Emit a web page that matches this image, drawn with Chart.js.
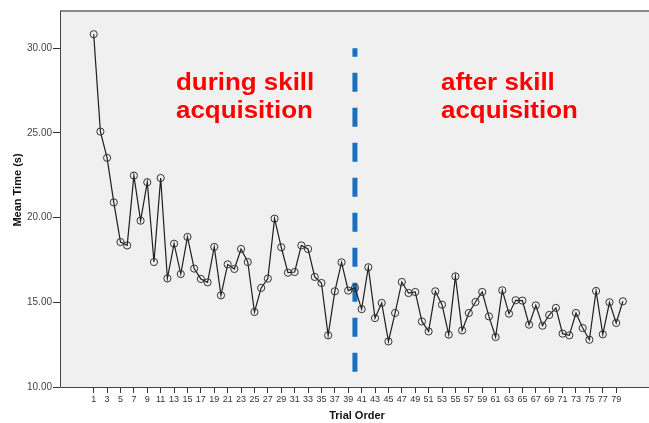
<!DOCTYPE html>
<html>
<head>
<meta charset="utf-8">
<script src="https://cdn.jsdelivr.net/npm/chart.js@4.4.1/dist/chart.umd.min.js"></script>
<style>
  html, body { margin: 0; padding: 0; background: #ffffff; }
  #wrap { width: 649px; height: 423px; position: relative; }
</style>
</head>
<body>
<div id="wrap"><canvas id="chart" width="649" height="423"></canvas></div>
<script>
// Trial numbers 1..80 and the mean completion time (s) for each trial
const trials = [];
for (let i = 1; i <= 80; i++) trials.push(i);

const meanTimes = [
  30.83, 25.08, 23.53, 20.90, 18.56, 18.36, 22.48, 19.82, 22.09, 17.38,
  22.34, 16.41, 18.46, 16.67, 18.86, 16.99, 16.38, 16.18, 18.27, 15.41,
  17.24, 16.97, 18.15, 17.38, 14.43, 15.85, 16.40, 19.94, 18.25, 16.75,
  16.79, 18.36, 18.15, 16.50, 16.14, 13.05, 15.65, 17.36, 15.69, 15.85,
  14.60, 17.07, 14.07, 14.96, 12.69, 14.37, 16.20, 15.55, 15.61, 13.87,
  13.28, 15.65, 14.86, 13.09, 16.53, 13.34, 14.37, 15.02, 15.61, 14.17,
  12.95, 15.71, 14.33, 15.12, 15.10, 13.68, 14.82, 13.62, 14.25, 14.67,
  13.15, 13.05, 14.37, 13.48, 12.79, 15.67, 13.11, 15.00, 13.78, 15.06
];

// Tick labels
const xTickValues = [];
for (let t = 1; t <= 79; t += 2) xTickValues.push(t);
const yTickValues = [10, 15, 20, 25, 30];

// Phase boundary (trial 40) and its vertical extent in seconds
const boundaryTrial = [40, 40];
const boundaryTime = [10.9, 30.0];

const phaseLabels = [
  ["during skill", "acquisition"],
  ["after skill", "acquisition"]
];

const points = trials.map((t, i) => ({ x: t, y: meanTimes[i] }));
const boundary = boundaryTrial.map((t, i) => ({ x: t, y: boundaryTime[i] }));

const frame = {
  id: 'frame',
  beforeDraw(chart) {
    const { ctx, chartArea: a } = chart;
    ctx.save();
    ctx.fillStyle = '#f0f0f0';
    ctx.fillRect(a.left, a.top, a.right - a.left, a.bottom - a.top);
    ctx.restore();
  },
  afterDatasetsDraw(chart) {
    const { ctx, chartArea: a } = chart;
    ctx.save();
    // top edge
    ctx.strokeStyle = '#8c8c8c';
    ctx.lineWidth = 2;
    ctx.beginPath();
    ctx.moveTo(a.left, a.top);
    ctx.lineTo(a.right, a.top);
    ctx.stroke();
    // left and bottom axis lines
    ctx.strokeStyle = '#444444';
    ctx.lineWidth = 1;
    ctx.beginPath();
    ctx.moveTo(a.left + 0.5, a.top);
    ctx.lineTo(a.left + 0.5, a.bottom + 0.5);
    ctx.lineTo(a.right, a.bottom + 0.5);
    ctx.stroke();

    // phase labels
    ctx.fillStyle = '#ff0000';
    ctx.font = 'bold 24px "Liberation Sans", Arial, sans-serif';
    ctx.textBaseline = 'alphabetic';
    ctx.textAlign = 'left';
    const spots = [176, 441];
    phaseLabels.forEach((lines, k) => {
      lines.forEach((s, j) => {
        ctx.save();
        ctx.translate(spots[k], 90 + j * 28);
        ctx.scale(1.08, 1);
        ctx.fillText(s, 0, 0);
        ctx.restore();
      });
    });

    // axis titles
    ctx.fillStyle = '#111111';
    ctx.font = 'bold 11px "Liberation Sans", Arial, sans-serif';
    ctx.textAlign = 'center';
    ctx.textBaseline = 'middle';
    ctx.fillText('Trial Order', 357, 416);
    ctx.save();
    ctx.translate(18, 190);
    ctx.rotate(-Math.PI / 2);
    ctx.fillText('Mean Time (s)', 0, 0);
    ctx.restore();
    ctx.restore();
  }
};

new Chart(document.getElementById('chart'), {
  type: 'scatter',
  data: {
    datasets: [
      {
        data: points,
        showLine: true,
        borderColor: '#1e1e1e',
        borderWidth: 1.2,
        pointRadius: 3.6,
        pointHoverRadius: 3.6,
        pointBorderWidth: 1,
        pointBorderColor: '#333333',
        pointBackgroundColor: 'rgba(0,0,0,0)',
        tension: 0
      },
      {
        data: boundary,
        showLine: true,
        borderColor: '#1a6fc0',
        borderWidth: 5,
        borderDash: [19, 16],
        borderCapStyle: 'butt',
        pointRadius: 0
      }
    ]
  },
  options: {
    responsive: false,
    animation: false,
    events: [],
    layout: { autoPadding: false, padding: { top: 11, right: 0, left: 0, bottom: 0 } },
    plugins: { legend: { display: false }, tooltip: { enabled: false } },
    scales: {
      x: {
        type: 'linear',
        min: -4.03,
        max: 83.9,
        afterBuildTicks(scale) {
          scale.ticks = xTickValues.map(v => ({ value: v }));
        },
        afterFit(scale) {
          scale.height = 36;
          scale.paddingLeft = 0;
          scale.paddingRight = 0;
        },
        border: { display: false },
        grid: {
          display: true,
          drawOnChartArea: false,
          drawTicks: true,
          tickLength: 6,
          color: '#333333'
        },
        ticks: {
          autoSkip: false,
          maxRotation: 0,
          minRotation: 0,
          padding: 1,
          color: '#333333',
          font: { family: '"Liberation Sans Narrow", "Liberation Sans", Arial, sans-serif', size: 9 },
          callback: v => String(v)
        }
      },
      y: {
        type: 'linear',
        min: 10,
        max: 32.2,
        afterBuildTicks(scale) {
          scale.ticks = yTickValues.map(v => ({ value: v }));
        },
        afterFit(scale) {
          scale.width = 60;
          scale.paddingTop = 0;
          scale.paddingBottom = 0;
        },
        border: { display: false },
        grid: {
          display: true,
          drawOnChartArea: false,
          drawTicks: true,
          tickLength: 7,
          color: '#333333'
        },
        ticks: {
          padding: 1,
          color: '#444444',
          font: { family: '"Liberation Sans Narrow", "Liberation Sans", Arial, sans-serif', size: 10 },
          callback: v => v.toFixed(2)
        }
      }
    }
  },
  plugins: [frame]
});
</script>
</body>
</html>
